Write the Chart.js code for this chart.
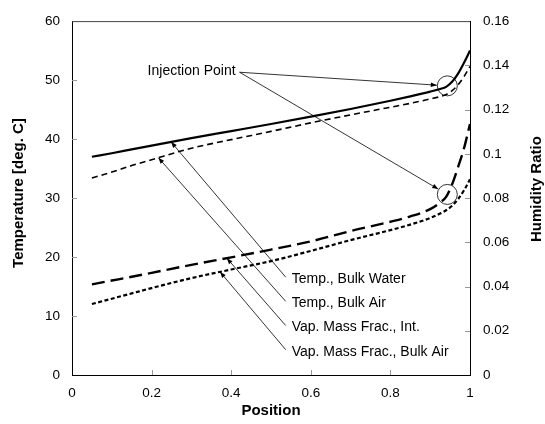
<!DOCTYPE html>
<html><head><meta charset="utf-8">
<script src="https://cdn.jsdelivr.net/npm/chart.js@4"></script>
<style>html,body{margin:0;padding:0;background:#fff}</style>
</head><body>
<canvas id="c" width="545" height="424"></canvas>
<script>
// ---- data ----
const positions = [0.05, 0.1, 0.15, 0.2, 0.3, 0.4, 0.5, 0.6, 0.7, 0.8, 0.85, 0.9, 0.925, 0.94, 0.955, 0.97, 0.985, 1.0];
const tempBulkWater = [37.0, 37.6, 38.25, 38.9, 40.15, 41.35, 42.55, 43.8, 45.1, 46.5, 47.25, 48.05, 48.5, 48.85, 49.7, 51.1, 52.95, 55.0];
const tempBulkAir = [33.4, 34.4, 35.5, 36.5, 38.45, 39.9, 41.3, 42.75, 44.1, 45.4, 46.05, 46.8, 47.2, 47.55, 48.2, 49.2, 50.6, 52.3];
const vapMassFracInt = [0.0410, 0.0427, 0.0444, 0.0462, 0.0498, 0.0532, 0.0567, 0.0604, 0.0651, 0.0693, 0.0717, 0.0750, 0.0780, 0.0805, 0.0862, 0.0940, 0.1025, 0.1135];
const vapMassFracBulkAir = [0.0321, 0.0345, 0.0369, 0.0393, 0.0438, 0.0477, 0.0515, 0.0561, 0.0610, 0.0655, 0.0680, 0.0710, 0.0730, 0.0745, 0.0765, 0.0795, 0.0835, 0.0885];
const seriesNames = ['Temp., Bulk Water', 'Temp., Bulk Air', 'Vap. Mass Frac., Int.', 'Vap. Mass Frac., Bulk Air'];
const xTickValues = [0, 0.2, 0.4, 0.6, 0.8, 1];
const tempTickValues = [0, 10, 20, 30, 40, 50, 60];
const humidityTickValues = [0, 0.02, 0.04, 0.06, 0.08, 0.1, 0.12, 0.14, 0.16];
const injectionLabel = 'Injection Point';
const injectionPosition = 0.943;

// ---- build ----
const FONT = "'Liberation Sans', Arial, sans-serif";
const allSeries = [tempBulkWater, tempBulkAir, vapMassFracInt, vapMassFracBulkAir];
const toPts = ys => positions.map((x, i) => ({x, y: ys[i]}));
const axisFor = [ 'y', 'y', 'y1', 'y1' ];
const styles = [
  {borderWidth: 2.2, borderDash: []},
  {borderWidth: 1.6, borderDash: [6, 4]},
  {borderWidth: 2.4, borderDash: [13, 6]},
  {borderWidth: 2.2, borderDash: [4, 2.5]}
];
function interp(ys, x) {
  for (let i = 0; i < positions.length - 1; i++) {
    if (x >= positions[i] && x <= positions[i + 1]) {
      const t = (x - positions[i]) / (positions[i + 1] - positions[i]);
      return ys[i] + t * (ys[i + 1] - ys[i]);
    }
  }
  return ys[ys.length - 1];
}
const fmt = v => String(Number(v.toFixed(3)));
const setTicks = arr => s => { s.ticks = arr.map(v => ({value: v})); };

// annotation layout (label anchor in x / left-axis units, arrow target x on its series)
const notes = [
  {series: 0, at: [0.552, 16.25], targetX: 0.249},
  {series: 1, at: [0.552, 12.15], targetX: 0.217},
  {series: 2, at: [0.552, 8.05], targetX: 0.389},
  {series: 3, at: [0.552, 3.95], targetX: 0.372}
];
const injectionAt = [0.19, 51.5];

function arrow(ctx, x0, y0, x1, y1) {
  ctx.beginPath(); ctx.moveTo(x0, y0); ctx.lineTo(x1, y1); ctx.stroke();
  const a = Math.atan2(y1 - y0, x1 - x0), L = 6, W = 2.3;
  ctx.beginPath();
  ctx.moveTo(x1, y1);
  ctx.lineTo(x1 - L * Math.cos(a) + W * Math.sin(a), y1 - L * Math.sin(a) - W * Math.cos(a));
  ctx.lineTo(x1 - L * Math.cos(a) - W * Math.sin(a), y1 - L * Math.sin(a) + W * Math.cos(a));
  ctx.closePath(); ctx.fill();
}

const decor = {
  id: 'decor',
  afterDraw(chart) {
    const {ctx, chartArea: ca, scales: {x, y, y1}} = chart;
    ctx.save();
    // top frame line
    ctx.strokeStyle = '#444'; ctx.lineWidth = 1;
    ctx.beginPath(); ctx.moveTo(ca.left, ca.top + 0.5); ctx.lineTo(ca.right, ca.top + 0.5); ctx.stroke();
    // inward tick marks
    ctx.strokeStyle = '#999'; ctx.lineWidth = 1;
    xTickValues.slice(1, -1).forEach(v => { const p = Math.round(x.getPixelForValue(v)) + 0.5; ctx.beginPath(); ctx.moveTo(p, ca.bottom); ctx.lineTo(p, ca.bottom - 5); ctx.stroke(); });
    tempTickValues.slice(1, -1).forEach(v => { const p = Math.round(y.getPixelForValue(v)) + 0.5; ctx.beginPath(); ctx.moveTo(ca.left, p); ctx.lineTo(ca.left + 5, p); ctx.stroke(); });
    humidityTickValues.slice(1, -1).forEach(v => { const p = Math.round(y1.getPixelForValue(v)) + 0.5; ctx.beginPath(); ctx.moveTo(ca.right, p); ctx.lineTo(ca.right - 5, p); ctx.stroke(); });
    // axis titles
    ctx.fillStyle = '#000';
    ctx.font = 'bold 15px ' + FONT; ctx.textAlign = 'center'; ctx.textBaseline = 'middle';
    ctx.save(); ctx.translate(19, (ca.top + ca.bottom) / 2 - 5); ctx.rotate(-Math.PI / 2); ctx.fillText('Temperature [deg. C]', 0, 0); ctx.restore();
    ctx.save(); ctx.translate(537, (ca.top + ca.bottom) / 2 - 9); ctx.rotate(-Math.PI / 2); ctx.fillText('Humidity Ratio', 0, 0); ctx.restore();
    // series labels with arrows
    ctx.font = '14px ' + FONT; ctx.textAlign = 'left'; ctx.textBaseline = 'middle';
    ctx.strokeStyle = '#000'; ctx.lineWidth = 0.8;
    notes.forEach(n => {
      const tx = x.getPixelForValue(n.at[0]), ty = y.getPixelForValue(n.at[1]);
      ctx.fillText(seriesNames[n.series], tx, ty);
      const sc = axisFor[n.series] === 'y' ? y : y1;
      const px = x.getPixelForValue(n.targetX), py = sc.getPixelForValue(interp(allSeries[n.series], n.targetX));
      arrow(ctx, tx - 6, ty - 2, px, py);
    });
    // injection point
    const ix = x.getPixelForValue(injectionAt[0]), iy = y.getPixelForValue(injectionAt[1]);
    ctx.fillText(injectionLabel, ix, iy);
    const sx = ix + ctx.measureText(injectionLabel).width + 4, sy = iy + 1;
    const cx = x.getPixelForValue(injectionPosition);
    [[y, tempBulkWater], [y1, vapMassFracInt]].forEach(([sc, ys]) => {
      const cy = sc.getPixelForValue(interp(ys, injectionPosition)), r = 10;
      ctx.beginPath(); ctx.arc(cx, cy, r, 0, Math.PI * 2); ctx.stroke();
      const d = Math.hypot(cx - sx, cy - sy);
      arrow(ctx, sx, sy, cx - (cx - sx) / d * (r + 0.5), cy - (cy - sy) / d * (r + 0.5));
    });
    ctx.restore();
  }
};

const tickFont = {family: FONT, size: 13.5};
new Chart(document.getElementById('c'), {
  type: 'line',
  data: {
    datasets: allSeries.map((ys, i) => ({
      label: seriesNames[i], data: toPts(ys), yAxisID: axisFor[i],
      borderColor: '#000', backgroundColor: '#000', pointRadius: 0, fill: false,
      cubicInterpolationMode: 'monotone', borderCapStyle: 'butt',
      borderWidth: styles[i].borderWidth, borderDash: styles[i].borderDash
    }))
  },
  options: {
    responsive: false, animation: false, devicePixelRatio: 1,
    layout: {padding: {top: 12, left: 0, right: 0, bottom: 0}},
    plugins: {legend: {display: false}, tooltip: {enabled: false}},
    scales: {
      x: {
        type: 'linear', min: 0, max: 1, afterBuildTicks: setTicks(xTickValues),
        afterFit: s => { s.height = 49; },
        grid: {display: false, drawTicks: false},
        border: {display: true, color: '#000', width: 1},
        ticks: {font: tickFont, color: '#000', padding: 10, maxRotation: 0, autoSkip: false, callback: v => fmt(v)},
        title: {display: true, text: 'Position', color: '#000', font: {family: FONT, size: 15, weight: 'bold'}, padding: {top: 0, bottom: 4}}
      },
      y: {
        position: 'left', min: 0, max: 60, afterBuildTicks: setTicks(tempTickValues),
        afterFit: s => { s.width = 72; },
        grid: {display: false, drawTicks: false},
        border: {display: true, color: '#000', width: 1},
        ticks: {font: tickFont, color: '#000', padding: 12, autoSkip: false, callback: v => fmt(v)},
        title: {display: false, text: 'Temperature [deg. C]'}
      },
      y1: {
        position: 'right', min: 0, max: 0.16, afterBuildTicks: setTicks(humidityTickValues),
        afterFit: s => { s.width = 75; },
        grid: {display: false, drawTicks: false},
        border: {display: true, color: '#000', width: 1},
        ticks: {font: tickFont, color: '#000', padding: 13, autoSkip: false, callback: v => fmt(v)},
        title: {display: false, text: 'Humidity Ratio'}
      }
    }
  },
  plugins: [decor]
});
</script>
</body></html>
